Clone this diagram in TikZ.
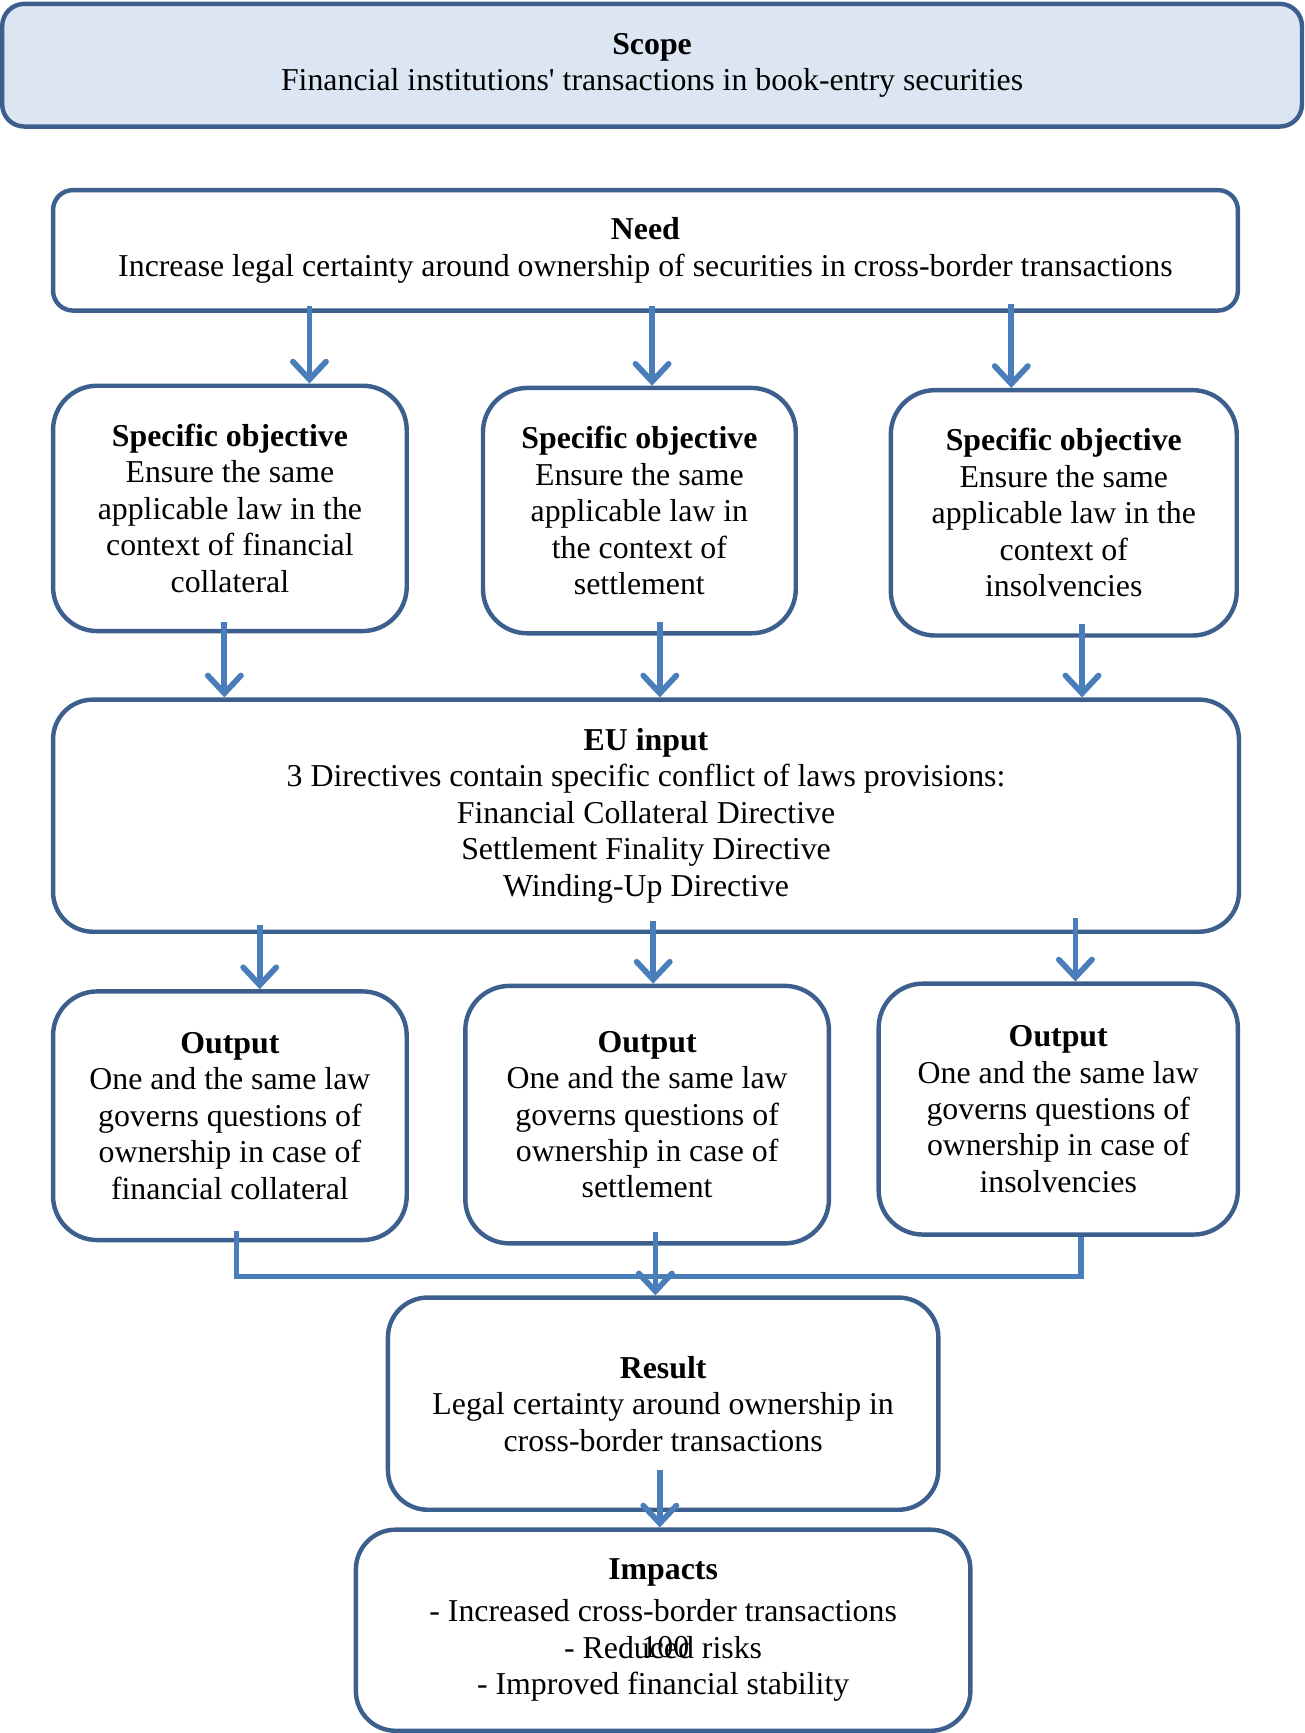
\documentclass[tikz,border=0pt]{standalone}
\usepackage{fontspec}
\setmainfont{Liberation Serif}
\usetikzlibrary{arrows.meta,calc}
\definecolor{bordc}{HTML}{3C5F8D}
\definecolor{arrc}{HTML}{4A7EBB}
\definecolor{scopefill}{HTML}{DCE6F2}
\tikzset{
  box/.style={draw=bordc, line width=2pt, fill=white, align=center, inner sep=0pt,
    font=\fontsize{14.4}{16.5}\selectfont},
  arr/.style={draw=arrc, line width=2.6pt, -{Straight Barb[length=8pt,width=15pt,line cap=round]}},
  bar/.style={draw=arrc, line width=2.6pt}
}
\begin{document}
\begin{tikzpicture}[x=0.5pt,y=-0.5pt]
\useasboundingbox (0,0) rectangle (1180,1568);
\node[box, fill=scopefill, rounded corners=10pt, minimum width=588pt, minimum height=55.5pt] (scope) at (590,59)
  {\textbf{Scope}\\Financial institutions\textquotesingle\ transactions in book-entry securities};
\node[box, rounded corners=9pt, minimum width=536pt, minimum height=54.5pt] (need) at (584,226.5)
  {\textbf{Need}\\Increase legal certainty around ownership of securities in cross-border transactions};
\node[box, rounded corners=20pt, minimum width=160pt, minimum height=111pt] (so1) at (208,460)
  {\textbf{Specific objective}\\Ensure the same\\applicable law in the\\context of financial\\collateral};
\node[box, rounded corners=20pt, minimum width=141.5pt, minimum height=111pt] (so2) at (578.5,462)
  {\textbf{Specific objective}\\Ensure the same\\applicable law in\\the context of\\settlement};
\node[box, rounded corners=20pt, minimum width=156.5pt, minimum height=111pt] (so3) at (962.5,464)
  {\textbf{Specific objective}\\Ensure the same\\applicable law in the\\context of\\insolvencies};
\node[box, rounded corners=18pt, minimum width=536.5pt, minimum height=105pt] (eu) at (584.5,738)
  {\textbf{EU input}\\3 Directives contain specific conflict of laws provisions:\\Financial Collateral Directive\\Settlement Finality Directive\\Winding-Up Directive};
\node[box, rounded corners=20pt, minimum width=160pt, minimum height=112.5pt] (out1) at (208,1009.5)
  {\textbf{Output}\\One and the same law\\governs questions of\\ownership in case of\\financial collateral};
\node[box, rounded corners=20pt, minimum width=164.5pt, minimum height=116.5pt] (out2) at (585.5,1008.5)
  {\textbf{Output}\\One and the same law\\governs questions of\\ownership in case of\\settlement};
\node[box, rounded corners=20pt, minimum width=162.5pt, minimum height=113.5pt] (out3) at (957.5,1003.5)
  {\textbf{Output}\\One and the same law\\governs questions of\\ownership in case of\\insolvencies};
\node[box, rounded corners=18pt, minimum width=249pt, minimum height=96pt] (res) at (600,1270)
  {\textbf{Result}\\Legal certainty around ownership in\\cross-border transactions};
\node[box, rounded corners=18pt, minimum width=278pt, minimum height=91pt] (imp) at (600,1475)
  {\textbf{Impacts}\\[2.5pt]- Increased cross-border transactions\\- Reduced risks\\- Improved financial stability};
\node[font=\fontsize{14.4}{16.5}\selectfont, inner sep=0pt] (pg) at (602,1490) {100};
% Need -> specific objectives
\draw[arr] ([yshift=3pt]need.south -| 280,0) -- (so1.north -| 280,0);
\draw[arr] ([yshift=3pt]need.south -| 590,0) -- (so2.north -| 590,0);
\draw[arr] ([yshift=4pt]need.south -| 915,0) -- (so3.north -| 915,0);
% Specific objectives -> EU input
\draw[arr] ([yshift=5pt]so1.south -| 203,0) -- (eu.north -| 203,0);
\draw[arr] ([yshift=6pt]so2.south -| 597,0) -- (eu.north -| 597,0);
\draw[arr] ([yshift=6pt]so3.south -| 979,0) -- (eu.north -| 979,0);
% EU input -> outputs
\draw[arr] ([yshift=4pt]eu.south -| 235,0) -- (out1.north -| 235,0);
\draw[arr] ([yshift=6pt]eu.south -| 591,0) -- (out2.north -| 591,0);
\draw[arr] ([yshift=7pt]eu.south -| 973,0) -- (out3.north -| 973,0);
% Outputs -> Result
\coordinate (barl) at (214,1155);
\coordinate (barr) at (978,1155);
\draw[bar] ([yshift=5pt]out1.south -| barl) -- (barl) -- (barr) -- ([yshift=0pt]out3.south -| barr);
\draw[arr] ([yshift=6pt]out2.south -| 593,0) -- (res.north -| 593,0);
% Result -> Impacts
\draw[arr] ([yshift=19pt]res.south -| 597,0) -- (imp.north -| 597,0);
\end{tikzpicture}
\end{document}
